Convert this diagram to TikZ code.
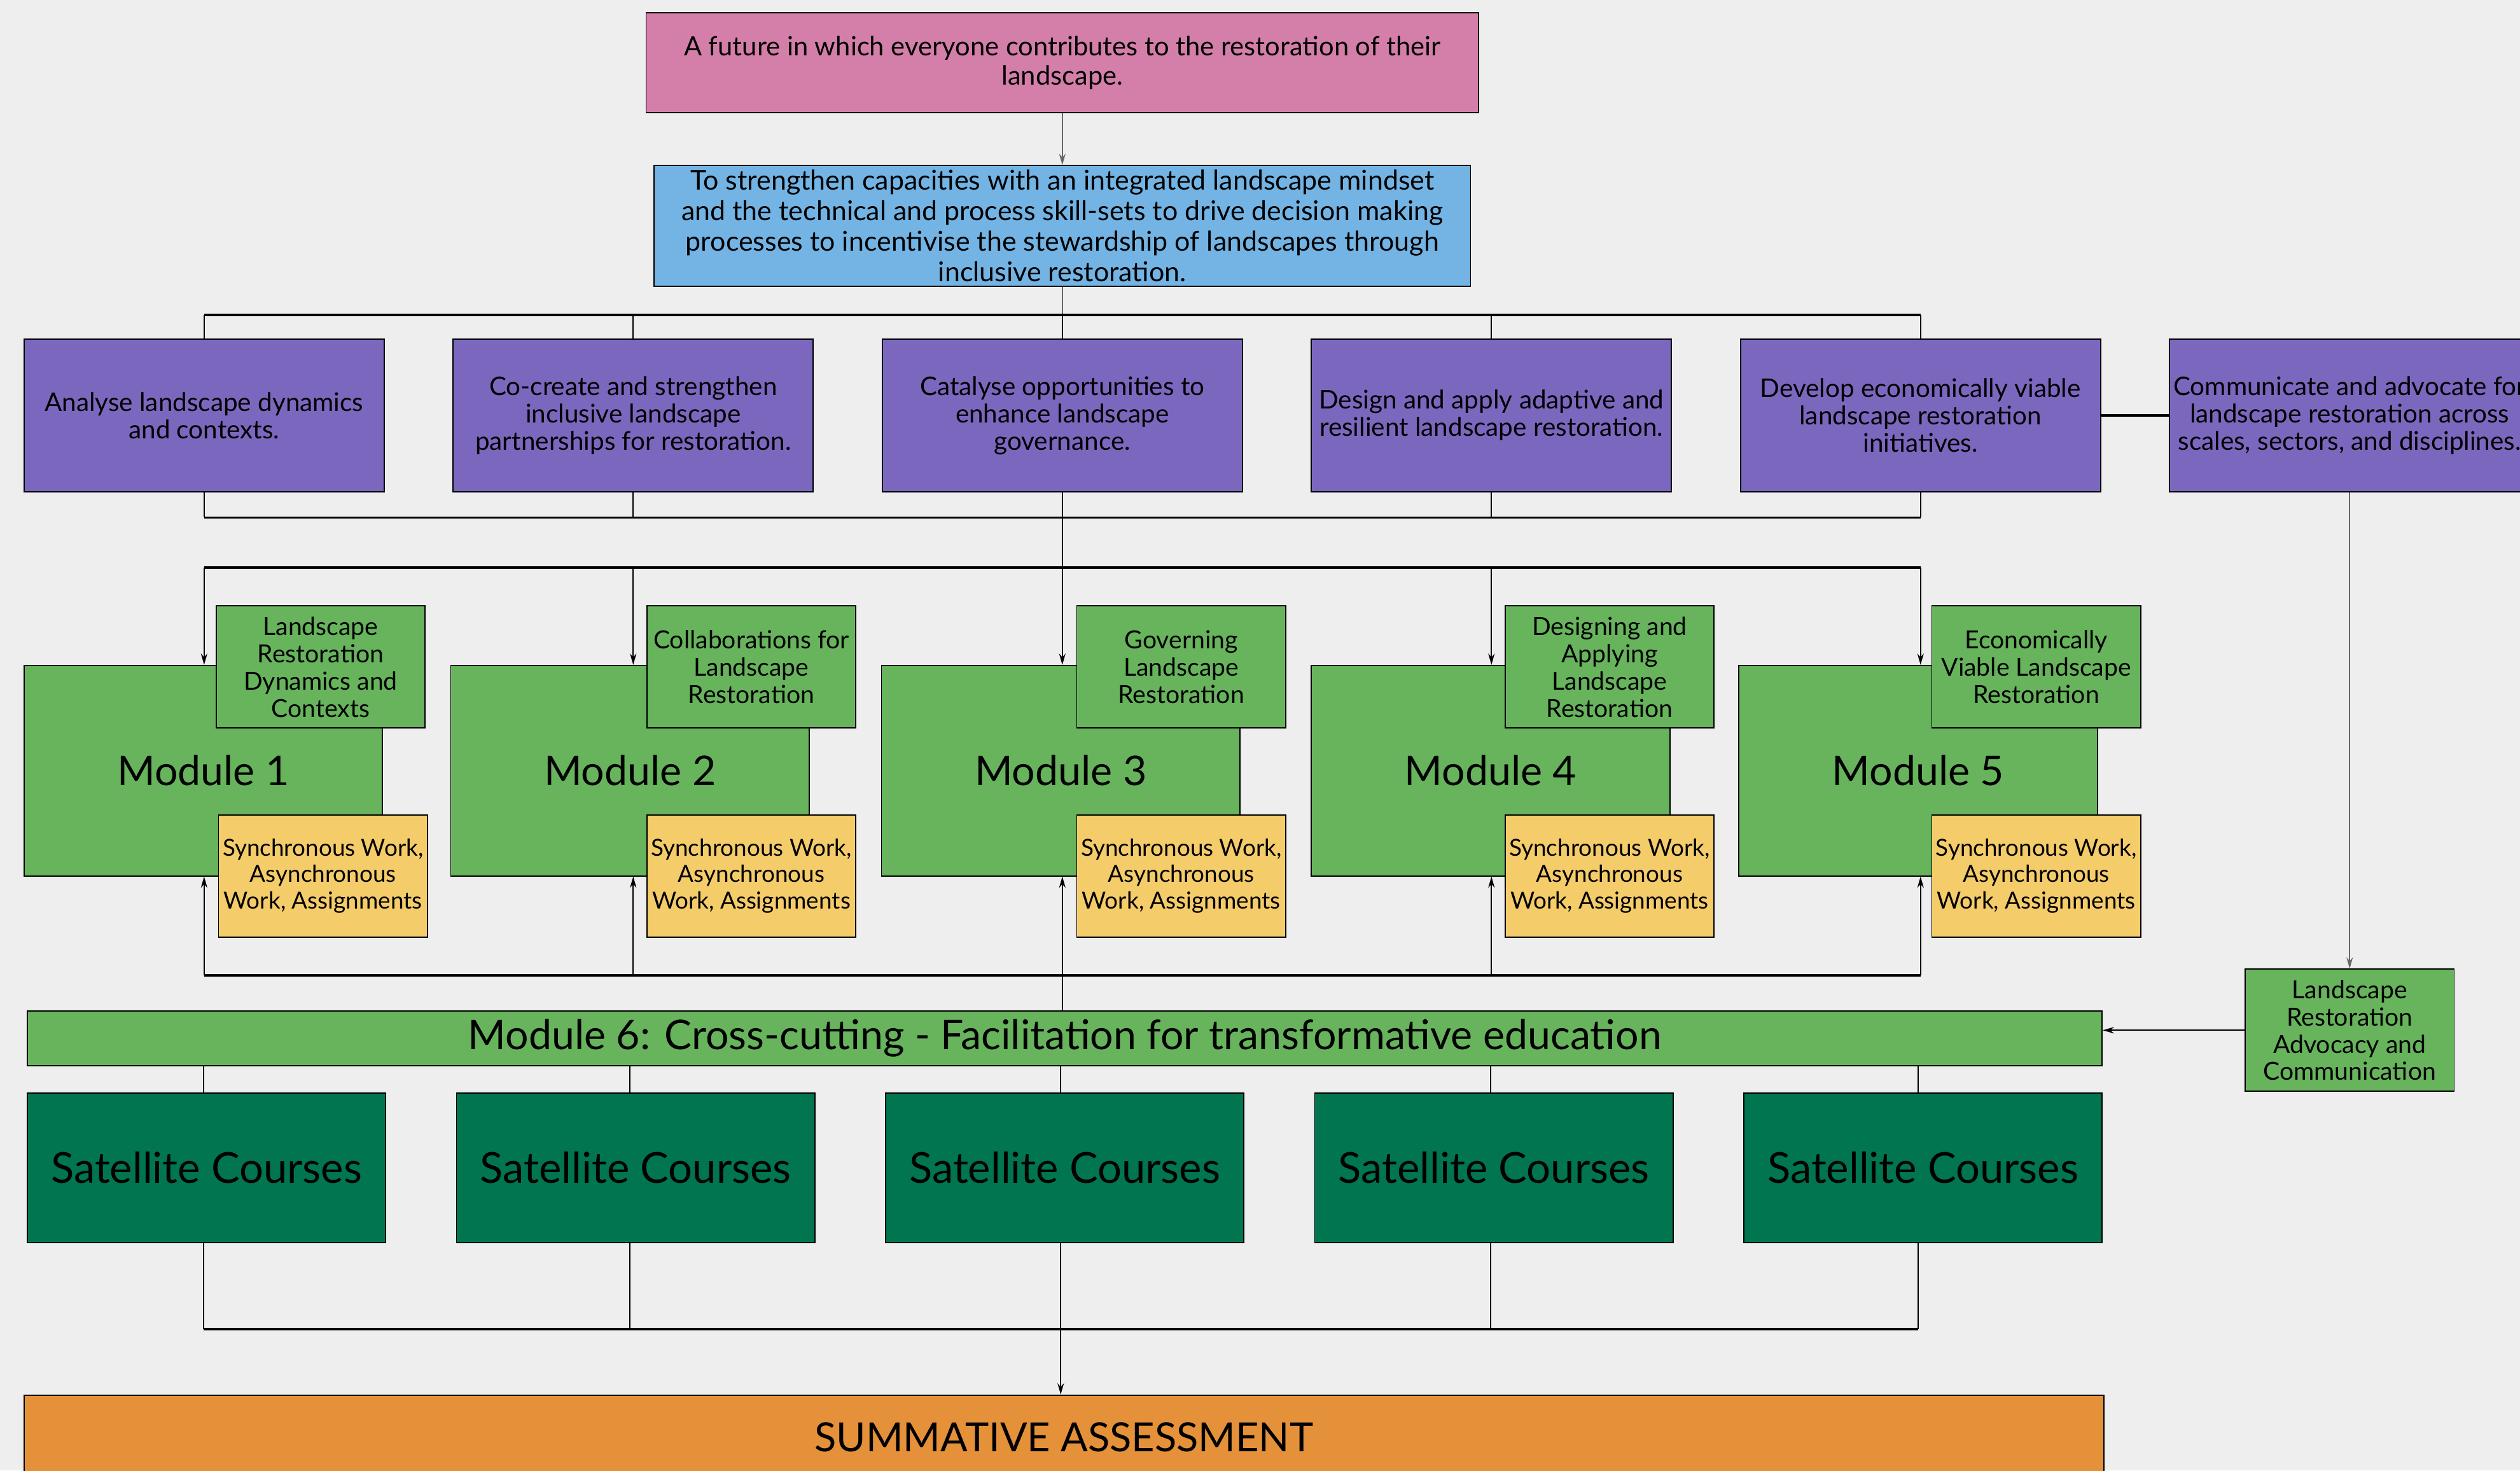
\documentclass[tikz,border=0pt]{standalone}
\usepackage{fontspec}
\setmainfont{Lato}
\usetikzlibrary{arrows.meta}
\definecolor{bgcol}{HTML}{EEEEEE}
\definecolor{goalcol}{HTML}{D37FA9}
\definecolor{aimcol}{HTML}{73B4E4}
\definecolor{objcol}{HTML}{7C67BF}
\definecolor{modcol}{HTML}{67B45D}
\definecolor{workcol}{HTML}{F4CC6A}
\definecolor{satcol}{HTML}{00754F}
\definecolor{sumcol}{HTML}{E5913A}
\begin{document}
\begin{tikzpicture}[x=1pt,y=-1pt]

    \tikzset{
      box/.style={
        draw=black,
        line width=0.7pt,
        inner sep=2pt,
        align=center,
        text=black,
      },
      goalbox/.style={box,fill=goalcol,minimum width=518pt,minimum height=62pt,font=\fontsize{16.5}{18}\selectfont},
      aimbox/.style={box,fill=aimcol,minimum width=508pt,minimum height=75pt,font=\fontsize{17}{19}\selectfont},
      objbox/.style={box,fill=objcol,minimum width=224pt,minimum height=95pt,font=\fontsize{16}{17}\selectfont},
      modbox/.style={box,fill=modcol,minimum width=223pt,minimum height=131pt,font=\fontsize{25.5}{30}\selectfont},
      titlebox/.style={box,fill=modcol,minimum width=130pt,minimum height=76pt,font=\fontsize{15.5}{17}\selectfont},
      workbox/.style={box,fill=workcol,minimum width=130pt,minimum height=76pt,font=\fontsize{14.6}{16.5}\selectfont},
      crossbox/.style={box,fill=modcol,minimum width=1291pt,minimum height=34pt,font=\fontsize{25.5}{28}\selectfont},
      satbox/.style={box,fill=satcol,minimum width=223pt,minimum height=93pt,font=\fontsize{26.5}{28}\selectfont},
      sumbox/.style={box,fill=sumcol,minimum width=1294pt,minimum height=52pt,font=\fontsize{25}{28}\selectfont},
      bus/.style={black,line width=1.5pt},
      link/.style={black,line width=0.8pt},
      feed/.style={gray!80!black,line width=0.8pt},
      >={Stealth[length=7pt,width=4pt]},
    }
    \useasboundingbox (0,0) rectangle (1568,915);
    \fill[bgcol] (0,0) rectangle (1568,915);
    \clip (0,0) rectangle (1568,915);

	\node[goalbox] (goal) at (661,39) {A future in which everyone contributes to the restoration of their\\landscape.};
	\node[aimbox] (aim) at (661,140.5) {To strengthen capacities with an integrated landscape mindset\\and the technical and process skill-sets to drive decision making\\processes to incentivise the stewardship of landscapes through\\inclusive restoration.};

	\node[objbox] (obj1) at (127,258.5) {Analyse landscape dynamics\\and contexts.};
	\node[objbox] (obj2) at (394,258.5) {Co-create and strengthen\\inclusive landscape\\partnerships for restoration.};
	\node[objbox] (obj3) at (661,258.5) {Catalyse opportunities to\\enhance landscape\\governance.};
	\node[objbox] (obj4) at (928,258.5) {Design and apply adaptive and\\resilient landscape restoration.};
	\node[objbox] (obj5) at (1195,258.5) {Develop economically viable\\landscape restoration\\initiatives.};
	\node[objbox] (obj6) at (1462,258.5) {Communicate and advocate for\\landscape restoration across\\scales, sectors, and disciplines.};

	\node[modbox] (mod1) at (126.5,479.5) {Module 1};
	\node[modbox] (mod2) at (392,479.5) {Module 2};
	\node[modbox] (mod3) at (660,479.5) {Module 3};
	\node[modbox] (mod4) at (927.5,479.5) {Module 4};
	\node[modbox] (mod5) at (1193.5,479.5) {Module 5};

	\node[titlebox] (title1) at (199.5,415) {Landscape\\Restoration\\Dynamics and\\Contexts};
	\node[titlebox] (title2) at (467.5,415) {Collaborations for\\Landscape\\Restoration};
	\node[titlebox] (title3) at (735,415) {Governing\\Landscape\\Restoration};
	\node[titlebox] (title4) at (1001.5,415) {Designing and\\Applying\\Landscape\\Restoration};
	\node[titlebox] (title5) at (1267,415) {Economically\\Viable Landscape\\Restoration};

	\node[workbox] (work1) at (201,545) {Synchronous Work,\\Asynchronous\\Work, Assignments};
	\node[workbox] (work2) at (467.5,545) {Synchronous Work,\\Asynchronous\\Work, Assignments};
	\node[workbox] (work3) at (735,545) {Synchronous Work,\\Asynchronous\\Work, Assignments};
	\node[workbox] (work4) at (1001.5,545) {Synchronous Work,\\Asynchronous\\Work, Assignments};
	\node[workbox] (work5) at (1267,545) {Synchronous Work,\\Asynchronous\\Work, Assignments};

	\node[crossbox] (cross) at (662.5,646) {Module 6: Cross-cutting - Facilitation for transformative education};
	\node[titlebox] (advo) at (1462,641) {Landscape\\Restoration\\Advocacy and\\Communication};

	\node[satbox] (sat1) at (128.5,726.5) {Satellite Courses};
	\node[satbox] (sat2) at (395.5,726.5) {Satellite Courses};
	\node[satbox] (sat3) at (662.5,726.5) {Satellite Courses};
	\node[satbox] (sat4) at (929.5,726.5) {Satellite Courses};
	\node[satbox] (sat5) at (1196.5,726.5) {Satellite Courses};

	\node[sumbox] (summ) at (662,894) {SUMMATIVE ASSESSMENT};

	\coordinate (topbus) at (661,196);
	\coordinate (objbus) at (661,322);
	\coordinate (modbus) at (661,353);
	\coordinate (workbus) at (661,607);
	\coordinate (satbus) at (661,827);

	\draw[feed,->] (goal.south) -- (aim.north);
	\draw[feed] (aim.south) -- (topbus);
	\draw[bus] (obj1.north |- topbus) -- (obj5.north |- topbus);
	\draw[link] (obj1.north |- topbus) -- (obj1.north);
	\draw[link] (obj2.north |- topbus) -- (obj2.north);
	\draw[link] (obj3.north |- topbus) -- (obj3.north);
	\draw[link] (obj4.north |- topbus) -- (obj4.north);
	\draw[link] (obj5.north |- topbus) -- (obj5.north);
	\draw[link] (obj1.south) -- (obj1.south |- objbus);
	\draw[link] (obj2.south) -- (obj2.south |- objbus);
	\draw[link] (obj3.south) -- (obj3.south |- objbus);
	\draw[link] (obj4.south) -- (obj4.south |- objbus);
	\draw[link] (obj5.south) -- (obj5.south |- objbus);
	\draw[bus] (obj1.south |- objbus) -- (obj5.south |- objbus);
	\draw[bus] (obj5.east) -- (obj6.west);
	\draw[link] (objbus) -- (modbus);

	\draw[bus] (obj1.south |- modbus) -- (obj5.south |- modbus);
	\draw[link,->] (obj1.south |- modbus) -- (obj1.south |- mod1.north);
	\draw[link,->] (obj2.south |- modbus) -- (obj2.south |- mod2.north);
	\draw[link,->] (obj3.south |- modbus) -- (obj3.south |- mod3.north);
	\draw[link,->] (obj4.south |- modbus) -- (obj4.south |- mod4.north);
	\draw[link,->] (obj5.south |- modbus) -- (obj5.south |- mod5.north);

	\draw[bus] (obj1.south |- workbus) -- (obj5.south |- workbus);
	\draw[link,->] (obj1.south |- workbus) -- (obj1.south |- mod1.south);
	\draw[link,->] (obj2.south |- workbus) -- (obj2.south |- mod2.south);
	\draw[link,->] (obj3.south |- workbus) -- (obj3.south |- mod3.south);
	\draw[link,->] (obj4.south |- workbus) -- (obj4.south |- mod4.south);
	\draw[link,->] (obj5.south |- workbus) -- (obj5.south |- mod5.south);
	\draw[link] (workbus) -- (workbus |- cross.north);

	\draw[feed,->] (obj6.south) -- (advo.north);
	\draw[link,->] (advo.west) -- (advo.west -| cross.east);

	\draw[link] (mod1.south |- sat1.north) -- (mod1.south |- cross.south);
	\draw[link] (mod2.south |- sat2.north) -- (mod2.south |- cross.south);
	\draw[link] (mod3.south |- sat3.north) -- (mod3.south |- cross.south);
	\draw[link] (mod4.south |- sat4.north) -- (mod4.south |- cross.south);
	\draw[link] (mod5.south |- sat5.north) -- (mod5.south |- cross.south);
	\draw[link] (mod1.south |- sat1.south) -- (mod1.south |- satbus);
	\draw[link] (mod2.south |- sat2.south) -- (mod2.south |- satbus);
	\draw[link] (mod3.south |- sat3.south) -- (mod3.south |- satbus);
	\draw[link] (mod4.south |- sat4.south) -- (mod4.south |- satbus);
	\draw[link] (mod5.south |- sat5.south) -- (mod5.south |- satbus);
	\draw[bus] (mod1.south |- satbus) -- (mod5.south |- satbus);
	\draw[link,->] (mod3.south |- satbus) -- (mod3.south |- summ.north);

\end{tikzpicture}
\end{document}
